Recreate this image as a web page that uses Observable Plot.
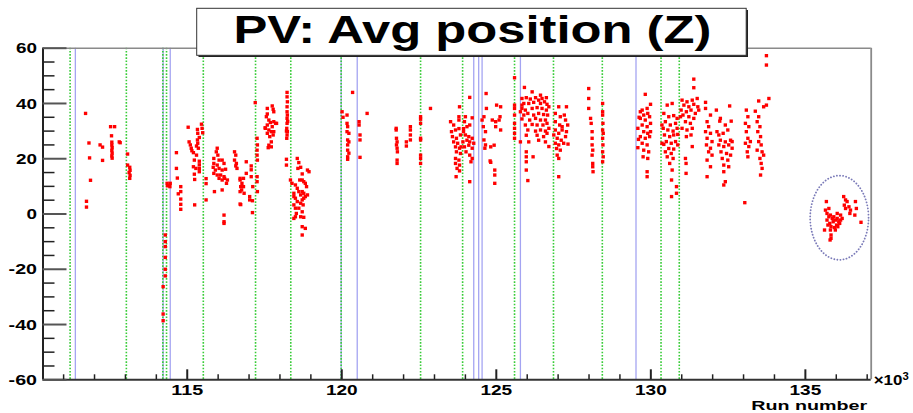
<!DOCTYPE html>
<html><head><meta charset="utf-8">
<script src="https://cdn.jsdelivr.net/npm/d3@7"></script>
<script src="https://cdn.jsdelivr.net/npm/@observablehq/plot@0.6"></script>
<style>html,body{margin:0;padding:0;background:#fff;overflow:hidden;width:913px;height:413px}</style>
</head><body><div id="chart"></div>
<script>
// ---- texts ----
const titleText = "PV: Avg position (Z)";
const xLabel = "Run number";
const xExponent = "×10";
const xExponentSup = "3";

// ---- scales / ticks (run number in thousands) ----
const xDomain = [110.333, 137.13];
const yDomain = [-60, 60];
const xMajorTicks = [115, 120, 125, 130, 135];
const xMinorTicks = [111, 112, 113, 114, 116, 117, 118, 119, 121, 122, 123, 124, 126, 127, 128, 129, 131, 132, 133, 134, 136, 137];
const yMajorTicks = [-60, -40, -20, 0, 20, 40, 60];
const yMinorTicks = [-55, -50, -45, -35, -30, -25, -15, -10, -5, 5, 10, 15, 25, 30, 35, 45, 50, 55];

// ---- vertical marker lines ----
const greenLines = [111.21, 113.03, 114.21, 114.33, 115.52, 117.21, 118.35, 119.98, 122.55, 123.91, 125.59, 126.85, 128.43, 130.33, 130.92];
const blueLines = [111.38, 114.22, 114.45, 119.98, 120.50, 124.27, 124.43, 124.54, 125.78, 129.52];

// ---- circled region ----
const ellipseCenter = [136.10, -1.35];
const ellipseRadii = [0.945, 15.25];

// ---- data points [run/1000, z] ----
const pointsA = [
[111.71,36.4],[111.82,25.7],[111.84,20.3],[111.87,12.2],[111.74,4.6],[111.74,2.5],
[112.18,25.0],[112.26,24.2],[112.26,19.4],[112.52,31.6],[112.65,31.6],[112.55,28.3],
[112.56,26.0],[112.56,25.0],[112.57,24.0],[112.56,23.0],[112.57,22.0],[112.56,21.0],[112.57,20.2],
[112.80,26.1],[112.83,25.8],
[113.07,21.7],[113.07,17.7],[113.14,16.9],[113.15,15.8],[113.12,15.0],[113.15,14.0],[113.14,12.9],
[114.29,-7.6],[114.29,-10],[114.29,-11.8],[114.29,-15.7],[114.29,-20],[114.29,-22.4],[114.22,-26.3],[114.22,-36.2],[114.22,-38.6],
[114.35,11.1],[114.45,11.1],[114.44,9.9],[114.36,10.2],
[114.65,22.2],[114.65,16.5],[114.68,13],[114.79,9.9],[114.79,8.1],[114.71,7.3],[114.79,5.4],[114.79,3.5],[114.79,1.7],
[115.03,31.4],[115.06,26.1],[115.10,25],[115.13,23.8],[115.15,22.9],[115.20,22.2],[115.30,21.3],[115.23,19.5],[115.20,17.1],
[115.28,16.5],[115.39,16.5],[115.23,14.4],[115.39,15.3],[115.24,12.5],[115.33,30.6],[115.34,29.2],[115.39,27.7],[115.33,26.8],
[115.34,25.6],[115.46,32.5],[115.48,31],[115.50,29.4],[115.39,19.1],[115.39,17.8],[115.24,3.3],[115.61,12.8],[115.61,11],
[115.61,5.1],[115.36,23.8],[115.30,24.6]
];
const pointsB = [
[115.97,23.8],[115.94,22.5],[115.99,21.3],[115.86,20.1],[116.03,19.5],[115.86,18.3],[115.97,17.7],[116.13,19.5],[116.19,18.3],
[115.84,16.9],[115.91,15.9],[116.03,16.5],[116.13,15.9],[116.24,16.2],[115.86,14.7],[115.97,14.1],[116.08,14.1],[116.19,13.5],
[116.21,12.9],[116.30,12.3],[116.03,12.9],[116.13,12.3],[116.27,11.1],[115.88,8.1],[116.13,8.7],[116.19,-0.4],[116.19,-2.8],
[116.19,-3.4],[116.53,22.5],[116.57,21.3],[116.53,19.5],[116.59,18.3],[116.57,17.4],[116.61,16.5],[116.71,12.9],[116.73,9.9],
[116.73,3.4],[116.76,8.7],
[116.71,12.3],[116.77,11.1],[116.82,9.9],[116.71,8.1],[116.84,7.5],[116.82,12.9],[116.91,18.9],[116.91,14.7],[117.02,6.3],
[117.02,5.1],[117.11,4.8],[116.71,3.6],[117.11,0.5],[117.07,17.4],[117.07,16],[117.07,13.5],[117.26,27.4],[117.27,25],
[117.26,23.1],[117.26,21.3],[117.27,19.5],[117.26,13.5],[117.26,11.7],[117.27,8.1],[117.20,40.3],[117.12,9.9],
[117.59,38.2],[117.59,36.2],[117.56,35.2],[117.75,39.1],[117.78,37.9],[117.80,37],[117.64,34],[117.69,33.1],[117.59,32.2],
[117.53,31],[117.75,31.6],[117.80,33.4],[117.86,32.8],[117.64,30.4],[117.72,29.8],[117.59,29.2],[117.80,29.8],[117.78,28.6],
[117.67,28],[117.72,26.1],[117.64,24.9],[117.72,24.3],[117.62,24],[117.52,31.2],[117.89,32.8]
];
const pointsC = [
[118.23,44],[118.23,42.4],[118.24,40.6],[118.23,38.8],[118.23,37],[118.24,35.8],[118.23,34.6],[118.23,32.8],[118.22,31],
[118.24,29.8],[118.23,28.6],[118.22,27.4],[118.21,19.8],[118.21,17.7],[118.21,30],[118.25,33.5],
[118.56,20.1],[118.61,18.6],[118.67,16.9],[118.58,16.5],[118.89,15.9],[118.94,15.3],[118.72,14.5],[118.64,12.3],[118.72,12.3],
[118.34,12.3],[118.39,11.1],[118.50,10.5],[118.77,11.7],[118.82,11.1],[118.86,9.9],[118.56,9.3],[118.61,8.1],[118.72,8.1],
[118.77,7.5],[118.67,6.9],[118.45,6.3],[118.50,5.7],[118.77,5.7],[118.72,5.1],[118.82,6.3],[118.56,4.5],[118.67,3.9],
[118.75,3.3],[118.45,3.3],[118.50,2.1],[118.61,2.1],[118.72,0.8],[118.53,0.2],[118.50,-1],[118.67,-1],[118.77,-1.2],
[118.45,-1.6],[118.72,-4.6],[118.82,-5.2],[118.72,-7.6],[118.89,6.9],[118.45,7.5],
[120.01,37],[120.04,35],[120.35,44],[120.17,35.8],[120.17,32.8],[120.19,31.6],[120.17,29.8],[120.23,29.2],[120.19,26.8],
[120.23,26.1],[120.19,25],[120.19,23.1],[120.23,22],[120.19,20.7],[120.19,19.8],[120.56,33.4],[120.56,32.2],[120.59,28.6],
[120.59,26.8],[120.59,20.5],[120.82,36.4],
[121.76,31],[121.76,30.4],[121.77,27.4],[121.79,26.1],[121.77,25],[121.79,23.8],[121.80,22.5],[121.79,19.5],[121.79,18.3],
[122.09,26.1],[122.09,24.6],[122.22,31.6],[122.22,30.4],[122.22,28.6],[122.22,26.8],
[122.55,35.2],[122.55,34.3],[122.55,32.8],[122.55,27.4],[122.55,26.8],[122.55,21.3],[122.55,20.1],[122.55,18.3],[122.87,38.2]
];
const pointsD = [
[123.81,38.8],[123.52,33.4],[123.62,32.2],[123.79,35.2],[123.79,34],[124.00,35.2],[123.97,33.4],[124.22,34.8],[124.14,42.2],
[123.55,29.8],[123.68,30.4],[123.79,30.9],[123.94,30.9],[124.05,31.6],[124.14,32.2],[123.58,28],[123.71,27.4],[123.84,28.6],
[124.00,28.6],[124.11,28],[124.22,27.4],[123.62,26.1],[123.75,25.6],[123.92,26.1],[124.05,26.7],[124.14,26.1],[124.27,25.6],
[123.68,24.3],[123.81,23.8],[123.97,24.3],[124.11,24.9],[124.22,23.8],[123.71,22.5],[123.84,21.9],[124.02,22.5],[124.14,21.3],
[123.68,20.1],[123.79,19.5],[124.22,20.1],[123.68,18.3],[123.81,17.7],[124.18,18.9],[123.73,16.5],[123.81,15.6],[123.70,13.5],
[124.14,11.7],[123.86,24.3],[123.94,29.8],
[124.67,43.6],[124.54,34],[124.60,35.2],[124.58,31.6],[124.65,29.8],[124.60,26.8],[124.65,25],[124.63,23.8],[124.68,38.2],
[124.87,34],[124.98,33.4],[125.09,34],[125.01,39.4],[125.14,38.8],[125.12,35.2],[124.98,31.6],[125.14,30.4],[124.82,24.3],
[124.93,24.9],[124.80,19.2],[124.82,18.7],[124.95,15.9],[124.95,14.1],[124.95,11.1],
[125.59,49.3],[125.59,39.4],[125.59,38.2],[125.59,35.8],[125.59,32.8],[125.59,31],[125.59,29.2],[125.59,27.4],[125.78,26.1],[125.91,45.8],
[125.83,41.8],[125.97,42.1],[126.10,41.6],[126.27,42.1],[126.37,41.2],[126.48,41.8],[126.62,42.1],[125.89,40.0],[126.05,40.0],
[126.21,40.4],[126.43,40.0],[126.56,40.6],[126.64,39.7],[125.83,38.2],[125.94,37.6],[126.16,38.2],[126.32,38.5],[126.48,38.2],
[126.62,37.6],[126.70,38.8],[125.89,35.8],[126.02,36.4],[126.21,35.8],[126.37,36.4],[126.53,36.0],[126.66,35.8],[125.83,34.4],
[126.08,34.0],[126.27,34.6],[126.43,34.0],[126.59,34.0],[125.94,32.2],[126.16,32.4],[126.32,32.2],[126.51,32.2],[126.64,32.8],
[126.02,30.4],[126.27,30.0],[126.43,30.4],[126.59,30.0],[126.70,31.0],[125.97,28.5],[126.32,28.5],[126.53,28.0],[126.64,29.2],
[126.05,26.1],[126.37,26.7],[126.59,26.1],[126.70,24.4],[125.97,22.5],[125.97,20.7],[125.97,18.9],[126.19,20.7],[125.97,15.9],
[126.02,12.1],[125.83,39.4],[125.78,37.0],[126.16,44.2],[126.43,43.0],
[126.91,36.4],[127.02,38.8],[127.27,38.8],[127.07,35.2],[127.20,35.8],[126.91,33.4],[127.05,32.2],[127.24,34.0],[127.31,32.2],
[126.91,30.4],[127.02,29.2],[127.13,30.4],[127.27,29.8],[126.97,27.4],[127.10,26.7],[127.24,28.0],[126.91,25.6],[127.02,25.0],
[127.18,25.6],[127.32,25.3],[126.95,23.7],[127.07,23.1],[126.97,21.3],[127.02,20.1],[127.02,13.5],[127.13,31.6],[126.86,28.6]
];
const pointsE = [
[127.99,45.4],[127.99,41.8],[127.99,38.2],[128.05,34.6],[128.07,32.8],[128.10,29.8],[128.10,27.4],[128.10,25],[128.12,23.1],
[128.10,21.3],[128.12,18.3],[128.12,17.1],[128.13,15.3],
[128.44,40],[128.44,37],[128.44,35.8],[128.45,32.8],[128.44,30.4],[128.46,29.2],[128.44,27.4],[128.45,25],[128.44,22.5],
[128.46,20.7],[128.44,18.9],
[129.82,43.3],[129.72,37.6],[129.88,38.2],[129.99,39.7],[129.77,35.8],[129.90,36.4],[129.66,34.6],[129.82,34.0],[129.96,35.2],
[129.72,32.2],[129.88,31.6],[129.99,32.8],[129.77,29.8],[129.90,29.2],[129.66,28.0],[129.82,27.4],[129.96,28.0],[129.72,25.6],
[129.88,25.0],[129.77,23.1],[129.93,22.5],[129.75,20.7],[129.90,20.1],[129.88,15.3],[129.88,13.5],[129.66,37.0],[129.99,29.8],
[129.58,31],[129.60,27],[129.58,24],[129.62,35],
[130.53,39.4],[130.69,40.0],[130.42,36.4],[130.58,35.2],[130.74,35.6],[130.85,34.6],[130.47,33.4],[130.63,32.2],[130.80,32.8],
[130.40,31.0],[130.55,30.4],[130.72,30.0],[130.85,31.0],[130.44,28.6],[130.61,28.0],[130.74,28.6],[130.87,28.8],[130.50,26.2],
[130.66,25.6],[130.80,26.2],[130.42,25.2],[130.58,23.7],[130.74,23.5],[130.47,22.5],[130.66,21.9],[130.53,20.7],[130.72,20.1],
[130.61,18.3],[130.69,15.9],[130.67,12.3],[130.83,9.9],[130.83,7.5],[130.67,6.3],[130.36,25.6],[130.36,32.2],[130.87,25.0],
[131.39,48.8],[131.39,45.7],[131.01,41.2],[131.17,40.6],[131.34,41.2],[131.50,41.8],[131.07,39.4],[131.23,38.8],[131.39,39.7],
[131.52,38.8],[130.98,37.6],[131.15,37.0],[131.30,37.6],[131.44,36.4],[131.04,35.8],[131.23,35.2],[131.39,34.6],[131.12,33.4],
[131.28,32.8],[131.01,31.0],[131.17,30.4],[131.34,31.0],[131.15,28.0],[131.30,28.6],[131.34,24.4],[131.12,20.1],[131.14,18.3],
[131.14,14.7],[131.55,37.6],[130.96,35.2],
[131.77,40.4],[131.77,38.2],[131.93,35.8],[131.82,33.4],[131.87,31.6],[131.77,29.8],[131.93,29.2],[131.82,27.4],[131.98,26.2],
[131.80,25.0],[131.93,23.8],[131.87,22.5],[131.98,21.3],[131.82,19.5],[131.93,17.1],[131.82,13.5],[132.12,37.6],[132.25,34.6],
[132.55,39.1],[132.23,33.6],[132.41,32.2],[132.60,33.6],[132.14,29.8],[132.34,29.2],[132.49,30.4],[132.25,26.7],[132.41,26.1],
[132.58,26.7],[132.20,25.0],[132.36,24.4],[132.52,25.0],[132.63,23.8],[132.27,22.5],[132.45,21.9],[132.58,21.3],[132.31,20.1],
[132.49,19.5],[132.36,17.7],[132.52,17.1],[132.36,15.3],[132.41,11.7],[132.36,10.5],[132.20,28.6],[132.63,26.2],
[133.04,4.1],
[133.09,37.6],[133.14,35.2],[133.06,32.8],[133.17,31.6],[133.09,29.8],[133.14,27.4],[133.06,25.6],[133.17,24.4],[133.12,22.5],
[133.14,20.7],[133.22,26.2],
[133.38,37.2],[133.49,35.2],[133.44,33.4],[133.53,31.6],[133.46,29.8],[133.55,28.0],[133.49,26.2],[133.57,25.0],[133.44,23.1],
[133.60,22.5],[133.53,20.1],[133.57,18.3],[133.60,16.5],[133.55,14.1],[133.65,21.3],[133.74,57.3],[133.74,53.9],[133.82,41.8],
[133.74,39.4],[133.65,38.8],[133.49,40.9]
];
const pointsCircled = [
[135.68,4.5],[135.65,1.4],[135.70,0.2],[135.76,-1.0],[135.81,-0.4],[135.87,-1.6],[135.92,-1.0],[135.97,-2.2],[136.03,-1.6],
[136.08,-2.8],[136.14,-2.2],[136.19,-1.6],[135.70,-2.2],[135.79,-3.4],[135.90,-2.8],[136.01,-4.0],[136.11,-3.4],[135.73,-4.0],
[135.83,-4.6],[135.94,-4.9],[136.05,-4.6],[135.81,-5.8],[135.97,-5.8],[135.62,-5.8],[135.83,-7.6],[135.83,-8.8],[136.24,6.3],
[136.30,5.1],[136.26,3.2],[136.35,4.5],[136.30,2.0],[136.41,2.6],[136.46,1.4],[136.44,0.2],[136.62,4.5],[136.65,2.0],
[136.60,-0.4],[136.80,-3.0],[136.03,0.2],[136.14,-0.4],[135.76,2.0],[135.80,-9.4]
];

// ---- layout ----
const W = 913, H = 413;
const mL = 42.5, mR = 42.3, mT = 47.7, mB = 33.7;
const frameW = W - mL - mR, frameH = H - mT - mB;
const FONT = "'Liberation Sans', Arial, Helvetica, sans-serif";

const allPoints = [...pointsA, ...pointsB, ...pointsC, ...pointsD, ...pointsE, ...pointsCircled];
const ellipsePath = d3.range(0, 361, 3).map(a => {
  const t = a * Math.PI / 180;
  return [ellipseCenter[0] + ellipseRadii[0] * Math.cos(t), ellipseCenter[1] + ellipseRadii[1] * Math.sin(t)];
});

const chart = Plot.plot({
  width: W, height: H,
  marginLeft: mL, marginRight: mR, marginTop: mT, marginBottom: mB,
  x: {domain: xDomain, axis: null},
  y: {domain: yDomain, axis: null},
  style: {background: "white", fontFamily: FONT, overflow: "visible"},
  marks: [
    Plot.ruleX(blueLines, {x: d => d, stroke: "#a4a4f2", strokeWidth: 1.3}),
    Plot.ruleX(greenLines, {x: d => d, stroke: "#38cc38", strokeWidth: 1.6, strokeDasharray: "1.6,1.6"}),
    Plot.dot(allPoints, {x: d => d[0], y: d => d[1], symbol: "square", r: 1.9, fill: "#ff0000", stroke: "none"}),
    Plot.line(ellipsePath, {x: d => d[0], y: d => d[1], stroke: "#7a7ab8", strokeWidth: 1.8, strokeDasharray: "0.1,3", strokeLinecap: "round", curve: "linear"}),
    Plot.ruleY([yDomain[1]], {stroke: "#8a8a8a", strokeWidth: 1.6}),
    Plot.ruleX([xDomain[1]], {stroke: "#8a8a8a", strokeWidth: 1.8}),
    Plot.ruleX([xDomain[0]], {stroke: "#222", strokeWidth: 2}),
    Plot.ruleY([yDomain[0]], {stroke: "#333", strokeWidth: 2}),
    Plot.tickY(yMajorTicks, {y: d => d, insetRight: frameW - 24, stroke: "#555", strokeWidth: 2}),
    Plot.tickY(yMinorTicks, {y: d => d, insetRight: frameW - 12, stroke: "#222", strokeWidth: 1.5}),
    Plot.tickX(xMajorTicks, {x: d => d, insetTop: frameH - 10, stroke: "#222", strokeWidth: 2}),
    Plot.tickX(xMinorTicks, {x: d => d, insetTop: frameH - 5, stroke: "#222", strokeWidth: 1.5}),
    Plot.text(yMajorTicks, {y: d => d, text: d => String(d), frameAnchor: "left", textAnchor: "end", dx: -6, dy: 0.5,
      fontSize: 14.5, fontWeight: "bold", fill: "#000"}),
    Plot.text(xMajorTicks, {x: d => d, text: d => String(d), frameAnchor: "bottom", lineAnchor: "top", dy: 4,
      fontSize: 15.5, fontWeight: "bold", fill: "#000"}),
    Plot.text([xLabel], {text: d => d, frameAnchor: "bottom-right", textAnchor: "end", lineAnchor: "middle", dx: -4, dy: 26,
      fontSize: 13.5, fontWeight: "bold", fill: "#000"}),
    Plot.text([xExponent], {text: d => d, frameAnchor: "bottom-right", textAnchor: "start", lineAnchor: "middle", dx: 2.5, dy: 0,
      fontSize: 15, fontWeight: "bold", fill: "#000"})
  ]
});
document.getElementById("chart").append(chart);

const svg = d3.select(chart);
// the four text marks, in mark order
const textGroups = svg.selectAll('g[aria-label="text"]').nodes();
const [gY, gX, gTitleX, gExp] = textGroups;
function setWidth(el, w) {
  el.setAttribute("textLength", w.toFixed(1));
  el.setAttribute("lengthAdjust", "spacingAndGlyphs");
}
const charW = c => (c === "-" ? 7.4 : 10.5);
if (gY) d3.select(gY).selectAll("text").each(function () {
  setWidth(this, [...this.textContent].reduce((a, c) => a + charW(c), 0));
});
if (gX) d3.select(gX).selectAll("text").each(function () { setWidth(this, this.textContent.length * 10.6); });
if (gTitleX) d3.select(gTitleX).selectAll("text").each(function () { setWidth(this, 116); });
if (gExp) d3.select(gExp).selectAll("text").each(function () {
  d3.select(this).append("tspan").attr("dy", "-0.45em").attr("font-size", 10).text(xExponentSup);
  setWidth(this, 35);
});

// title box with shadow
const tg = svg.append("g").attr("aria-label", "title");
tg.append("rect").attr("x", 198.5).attr("y", 10).attr("width", 549.5).attr("height", 47).attr("fill", "#222");
tg.append("rect").attr("x", 196.7).attr("y", 8.3).attr("width", 549.5).attr("height", 47).attr("fill", "#fff")
  .attr("stroke", "#333").attr("stroke-width", 1);
tg.append("text").attr("x", 472.4).attr("y", 43.3).attr("text-anchor", "middle")
  .attr("font-family", FONT).attr("font-weight", "bold").attr("font-size", 39).attr("fill", "#000")
  .attr("textLength", 478).attr("lengthAdjust", "spacingAndGlyphs").text(titleText);
</script>
</body></html>
